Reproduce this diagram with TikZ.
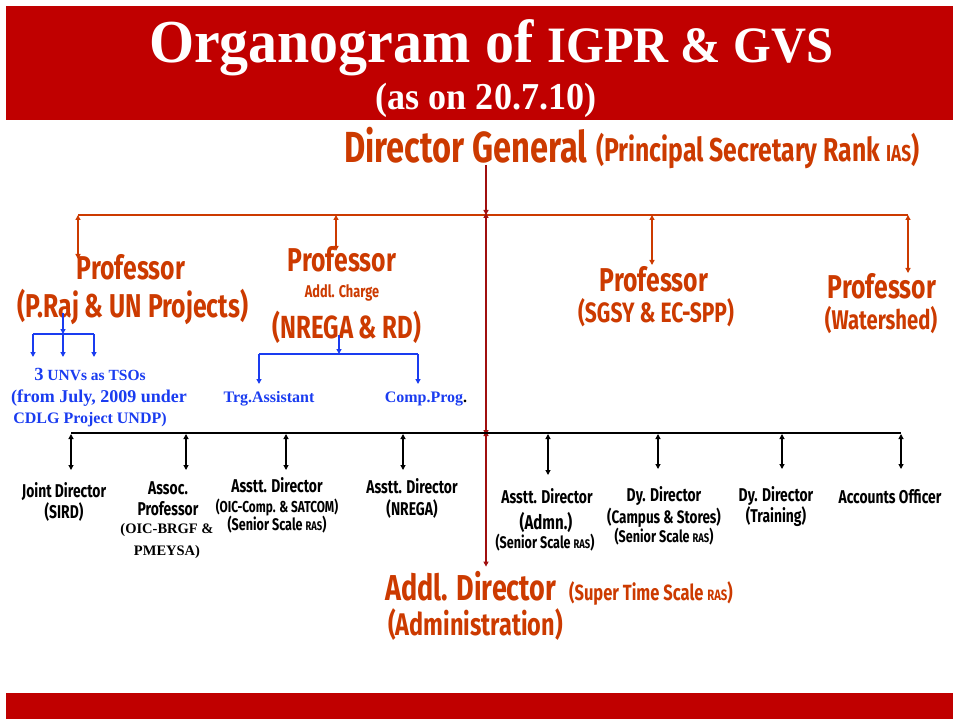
\documentclass[tikz,border=0pt]{standalone}
\usepackage{fontspec}
\setmainfont{Liberation Serif}
\newfontfamily\agency[FakeStretch=0.75]{Fira Sans}
\newfontfamily\titlefont[FakeStretch=0.95]{Liberation Serif}
\usetikzlibrary{arrows.meta}
\definecolor{barred}{HTML}{C00000}
\definecolor{rust}{HTML}{CC3A00}
\definecolor{maroon}{HTML}{A00F0F}
\definecolor{uiblue}{HTML}{1A3CF0}
\newcommand{\fsz}[1]{\fontsize{#1}{1.15\dimexpr#1pt\relax}\selectfont}
\tikzset{
  txt/.style={inner sep=0pt, anchor=base},
  ag/.style={txt, font=\agency\bfseries\fsz{#1}},
  serifb/.style={txt, font=\bfseries\fsz{#1}},
  tip/.style={>={Triangle[length=5pt,width=5pt]}},
  rustline/.style={rust, line width=1.8pt},
  rustdrop/.style={rust, line width=1.3pt, tip, <->},
  trunk/.style={maroon, line width=1.6pt, tip},
  blackline/.style={black, line width=1.8pt},
  blackdrop/.style={black, line width=1.1pt, >={Triangle[length=5pt,width=5pt]}, <->},
  blueline/.style={uiblue, line width=1.6pt},
  bluedrop/.style={uiblue, line width=1.4pt, tip, ->},
}
\begin{document}
\begin{tikzpicture}[x=1pt,y=-1pt]
\useasboundingbox (0,0) rectangle (953,719);
% header and footer bands
\fill[barred] (6,6) rectangle (953,120);
\fill[barred] (6,693) rectangle (953,719);
\node[txt, text=white, font=\titlefont\bfseries] (title) at (491,63)
  {{\fsz{61}Organogram of}\hspace{14pt}{\fsz{51}IGPR \& GVS}};
\node[txt, text=white, font=\titlefont\bfseries\fsz{38}] (subtitle) at (486,110) {(as on 20.7.10)};

% Director General
\node[ag=43.5, text=rust, anchor=base west] (dg) at (344,163) {Director General};
\node[ag=33, text=rust, anchor=base west] (dgrank) at (596,162) {(Principal Secretary Rank {\fsz{23}IAS})};

% professors
\node[ag=33, text=rust] (p1) at (131,280) {Professor};
\node[ag=33, text=rust] (p1sub) at (133,318) {(P.Raj \& UN Projects)};
\node[ag=33, text=rust] (p2) at (342,272) {Professor};
\node[ag=17, text=rust] (p2add) at (342,298) {Addl. Charge};
\node[ag=32, text=rust] (p2sub) at (347,338) {(NREGA \& RD)};
\node[ag=33, text=rust] (p3) at (654,291) {Professor};
\node[ag=28, text=rust] (p3sub) at (656,323) {(SGSY \& EC-SPP)};
\node[ag=33, text=rust] (p4) at (882,299) {Professor};
\node[ag=27, text=rust] (p4sub) at (881,330) {(Watershed)};

% blue sub-units
\node[serifb=15.5, text=uiblue] (unv1) at (90,380) {{\fsz{18.5}3} UNVs as TSOs};
\node[serifb=18, text=uiblue] (unv2) at (99,402) {(from July, 2009 under};
\node[serifb=16, text=uiblue] (unv3) at (90,423) {CDLG Project UNDP)};
\node[serifb=16, text=uiblue] (trg) at (269,402) {Trg.Assistant};
\node[serifb=16, text=uiblue] (comp) at (426,402) {Comp.Prog\textcolor{black}{.}};

% lower row
\node[ag=18.5] (jd1) at (64,497) {Joint Director};
\node[ag=18.5] (jd2) at (64,518) {(SIRD)};
\node[ag=18.5] (ap1) at (168,494) {Assoc.};
\node[ag=18.5] (ap2) at (168,515) {Professor};
\node[serifb=14.5] (ap3) at (167,533) {(OIC-BRGF \&};
\node[serifb=14.5] (ap4) at (167,555) {PMEYSA)};
\node[ag=18.5] (ad1) at (277,492) {Asstt. Director};
\node[ag=15.8] (ad2) at (277,512) {(OIC-Comp. \& SATCOM)};
\node[ag=16.8] (ad3) at (277,530) {(Senior Scale {\fsz{12.5}RAS})};
\node[ag=18.5] (an1) at (412,493) {Asstt. Director};
\node[ag=18.5] (an2) at (412,515) {(NREGA)};
\node[ag=18.5] (aa1) at (547,503) {Asstt. Director};
\node[ag=20] (aa2) at (546,529) {(Admn.)};
\node[ag=16.8] (aa3) at (545,548) {(Senior Scale {\fsz{12.5}RAS})};
\node[ag=18.5] (dc1) at (664,501) {Dy. Director};
\node[ag=18] (dc2) at (664,523) {(Campus \& Stores)};
\node[ag=16.8] (dc3) at (664,542) {(Senior Scale {\fsz{12.5}RAS})};
\node[ag=18.5] (dt1) at (776,501) {Dy. Director};
\node[ag=18.5] (dt2) at (776,522) {(Training)};
\node[ag=18.5] (ao) at (890,503) {Accounts Officer};

% Additional Director
\node[ag=36, text=rust, anchor=base west] (adl) at (385,600) {Addl. Director};
\node[ag=22, text=rust, anchor=base west] (adlrank) at (569,600) {(Super Time Scale {\fsz{15}RAS})};
\node[ag=31.3, text=rust, anchor=base west] (adlsub) at (388,635) {(Administration)};

% junction points
\coordinate (dgfoot) at (486,165);
\coordinate (obusW) at (78,215);
\coordinate (obusE) at (908,215);
\coordinate (obusC) at (486,215);
\coordinate (kbusW) at (71,433);
\coordinate (kbusE) at (901,433);
\coordinate (kbusC) at (486,433);
\coordinate (bj1) at (63,334);
\coordinate (bj2) at (339,354);

% Director General to professors
\draw[trunk, ->] (dgfoot) -- (obusC);
\draw[rustline] (obusW) -- (obusE);
\draw[rustdrop] (obusW) -- ++(0,44);
\draw[rustdrop] (obusW -| 336,0) -- ++(0,36);
\draw[rustdrop] (obusW -| 652,0) -- ++(0,50);
\draw[rustdrop] (obusE) -- ++(0,58);

% central trunk down to the staff line and to the Addl. Director
\draw[trunk, <->] ([yshift=2pt]obusC) -- ([yshift=-2pt]kbusC);
\draw[trunk, <->] ([yshift=2pt]kbusC) -- ([yshift=4pt]kbusC |- adl.north);

% staff line
\draw[blackline] (kbusW) -- (kbusE);
\foreach \x/\y in {71/470, 186/470, 286/470, 403/470, 548/475, 658/469, 782/469, 901/469}
  \draw[blackdrop] (\x,434) -- (\x,\y);

% blue sub-units under the professors
\draw[blueline, ->, tip] (bj1 |- p1sub.base) ++(0,-5) -- (bj1);
\draw[blueline] (33,334) -- (94,334);
\foreach \x in {33,63,94}
  \draw[bluedrop] (\x,334) -- (\x,357);
\draw[blueline, ->, tip] (339,335) -- (bj2);
\draw[blueline] (259,354) -- (418,354);
\foreach \x in {259,418}
  \draw[bluedrop] (\x,354) -- (\x,384);
\end{tikzpicture}
\end{document}
